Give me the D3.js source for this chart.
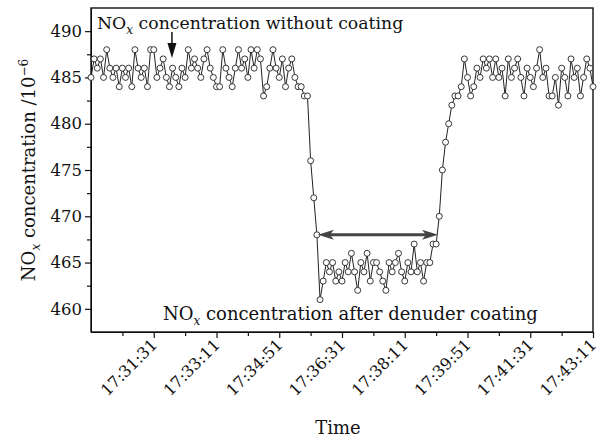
<!DOCTYPE html>
<html>
<head>
<meta charset="utf-8">
<script src="https://cdn.jsdelivr.net/npm/d3@7"></script>
<style>
  body { margin: 0; background: #fff; }
  svg text { font-family: "DejaVu Serif", serif; fill: #111; }
</style>
</head>
<body>
<div id="chart"></div>
<script>
// sampling: one reading every 5 s starting at 17:29:51
const startTime = "17:29:51";
const endTime = "17:43:11";
const stepSeconds = 5;

const noxValues = [
  // without coating
  485, 487, 486, 487, 485, 488, 486, 485, 486, 484, 486, 485, 486, 484, 488, 486,
  485, 486, 484, 488, 488, 485, 486, 487, 485, 484, 486, 485, 484, 486, 485, 488,
  486, 487, 486, 485, 487, 488, 486, 485, 484, 484, 488, 486, 485, 484, 486, 488,
  486, 487, 485, 488, 486, 488, 487, 483, 484, 486, 488, 486, 485, 487, 484, 486,
  487, 485, 484, 484, 483, 483,
  // drop
  476, 472, 468, 461,
  // after denuder coating
  463, 465, 464, 465, 463, 464, 463, 465, 464, 466, 464, 462, 465, 464, 466, 463,
  465, 465, 464, 463, 462, 465, 464, 465, 466, 464, 463, 465, 464, 467, 464, 465,
  463, 465, 465,
  // recovery
  467, 467, 470, 475, 478, 480, 482, 483, 483, 484, 487,
  485, 483, 484, 486, 485, 487, 486, 487, 485, 487, 485, 486, 483, 487, 485, 486,
  487, 485, 483, 486, 485, 484, 486, 488, 485, 486, 483, 483, 485, 482, 486, 485,
  483, 487, 485, 486, 483, 485, 487, 486, 484
];

const tickLabels = ["17:31:31", "17:33:11", "17:34:51", "17:36:31", "17:38:11", "17:39:51", "17:41:31", "17:43:11"];
const yTicks = [460, 465, 470, 475, 480, 485, 490];
const yMinorTicks = [462.5, 467.5, 472.5, 477.5, 482.5, 487.5];

let dim = {width: 608, height: 441};
let margin = {top: 8, right: 15, bottom: 109, left: 91};

let svg = d3.select('#chart').append('svg')
    .attr('width', dim.width)
    .attr('height', dim.height);

const parseTime = d3.timeParse("%H:%M:%S");
const t0 = parseTime(startTime);
const t1 = parseTime(endTime);

let points = noxValues.map((v, i) => ({
    time: new Date(t0.getTime() + i * stepSeconds * 1000),
    value: v
}));

let scaleX = d3.scaleTime()
    .domain([t0, t1])
    .range([margin.left, dim.width - margin.right]);

let scaleY = d3.scaleLinear()
    .domain([457.5, 492.5])
    .range([dim.height - margin.bottom, margin.top]);

let majorTimes = tickLabels.map(parseTime);
let minorTimes = majorTimes.map(d => new Date(d.getTime() - 50000));

// minor ticks
svg.append('g')
    .attr('transform', `translate(0,${dim.height - margin.bottom})`)
    .call(d3.axisBottom(scaleX).tickValues(minorTimes).tickSize(4).tickFormat(''))
    .call(g => g.select('.domain').remove());

svg.append('g')
    .attr('transform', `translate(${margin.left},0)`)
    .call(d3.axisLeft(scaleY).tickValues(yMinorTicks).tickSize(4).tickFormat(''))
    .call(g => g.select('.domain').remove());

let axisX = svg.append('g')
    .attr('transform', `translate(0,${dim.height - margin.bottom})`)
    .call(d3.axisBottom(scaleX)
        .tickValues(majorTimes)
        .tickSize(6)
        .tickSizeOuter(0)
        .tickFormat(d3.timeFormat("%H:%M:%S")));

axisX.selectAll('text')
    .attr('x', -7)
    .attr('y', 7)
    .attr('dy', '0.35em')
    .attr('transform', 'rotate(-45)')
    .style('text-anchor', 'end')
    .style('font-size', '16px');

let axisY = svg.append('g')
    .attr('transform', `translate(${margin.left},0)`)
    .call(d3.axisLeft(scaleY).tickValues(yTicks).tickSize(6).tickSizeOuter(0).tickPadding(3));

axisY.selectAll('text').style('font-size', '16.5px');

svg.selectAll('.tick line').attr('stroke', '#111').attr('stroke-width', 1.2);

// frame
svg.append('rect')
    .attr('x', margin.left)
    .attr('y', margin.top)
    .attr('width', dim.width - margin.left - margin.right)
    .attr('height', dim.height - margin.top - margin.bottom)
    .attr('fill', 'none')
    .attr('stroke', '#111')
    .attr('stroke-width', 1.4);

// series
let line = d3.line()
    .x(d => scaleX(d.time))
    .y(d => scaleY(d.value));

svg.append('path')
    .datum(points)
    .attr('d', line)
    .attr('fill', 'none')
    .attr('stroke', '#222')
    .attr('stroke-width', 1);

svg.selectAll('circle')
    .data(points)
    .enter()
    .append('circle')
    .attr('cx', d => scaleX(d.time))
    .attr('cy', d => scaleY(d.value))
    .attr('r', 3)
    .attr('fill', '#fff')
    .attr('stroke', '#222')
    .attr('stroke-width', 0.9);

// axis titles
svg.append('text')
    .attr('x', (margin.left + dim.width - margin.right) / 2 - 4)
    .attr('y', 434)
    .attr('text-anchor', 'middle')
    .style('font-size', '18px')
    .text('Time');

let yTitle = svg.append('text')
    .attr('transform', `translate(35,${(margin.top + dim.height - margin.bottom) / 2}) rotate(-90)`)
    .attr('text-anchor', 'middle')
    .style('font-size', '18px');
yTitle.append('tspan').text('NO');
yTitle.append('tspan').attr('dy', 5).style('font-size', '12px').style('font-style', 'italic').text('x');
yTitle.append('tspan').attr('dy', -5).text(' concentration /10');
yTitle.append('tspan').attr('dy', -7).style('font-size', '12px').text('\u22126');

// annotations
function noxLabel(x, y, size, rest) {
    let t = svg.append('text')
        .attr('x', x)
        .attr('y', y)
        .style('font-size', size + 'px');
    t.append('tspan').text('NO');
    t.append('tspan').attr('dy', 5).style('font-size', '12px').style('font-style', 'italic').text('x');
    t.append('tspan').attr('dy', -5).text(rest);
}

noxLabel(97, 29, 17.3, ' concentration without coating');
noxLabel(163, 320, 18, ' concentration after denuder coating');

// arrow pointing at baseline readings
let ax = scaleX(parseTime("17:32:00"));
svg.append('line')
    .attr('x1', ax).attr('x2', ax)
    .attr('y1', 32).attr('y2', 48)
    .attr('stroke', '#111')
    .attr('stroke-width', 1.5);
svg.append('path')
    .attr('d', `M${ax},58 L${ax - 4.5},43 L${ax + 4.5},43 Z`)
    .attr('fill', '#111');

// double arrow spanning the coated period
let ay = scaleY(468);
let xl = scaleX(parseTime("17:35:51")) + 1;
let xr = scaleX(parseTime("17:39:04"));
svg.append('line')
    .attr('x1', xl + 10).attr('x2', xr - 10)
    .attr('y1', ay).attr('y2', ay)
    .attr('stroke', '#444')
    .attr('stroke-width', 3);
svg.append('path')
    .attr('d', `M${xl},${ay} L${xl + 16},${ay - 5} L${xl + 12},${ay} L${xl + 16},${ay + 5} Z`)
    .attr('fill', '#444');
svg.append('path')
    .attr('d', `M${xr},${ay} L${xr - 16},${ay - 5} L${xr - 12},${ay} L${xr - 16},${ay + 5} Z`)
    .attr('fill', '#444');
</script>
</body>
</html>
